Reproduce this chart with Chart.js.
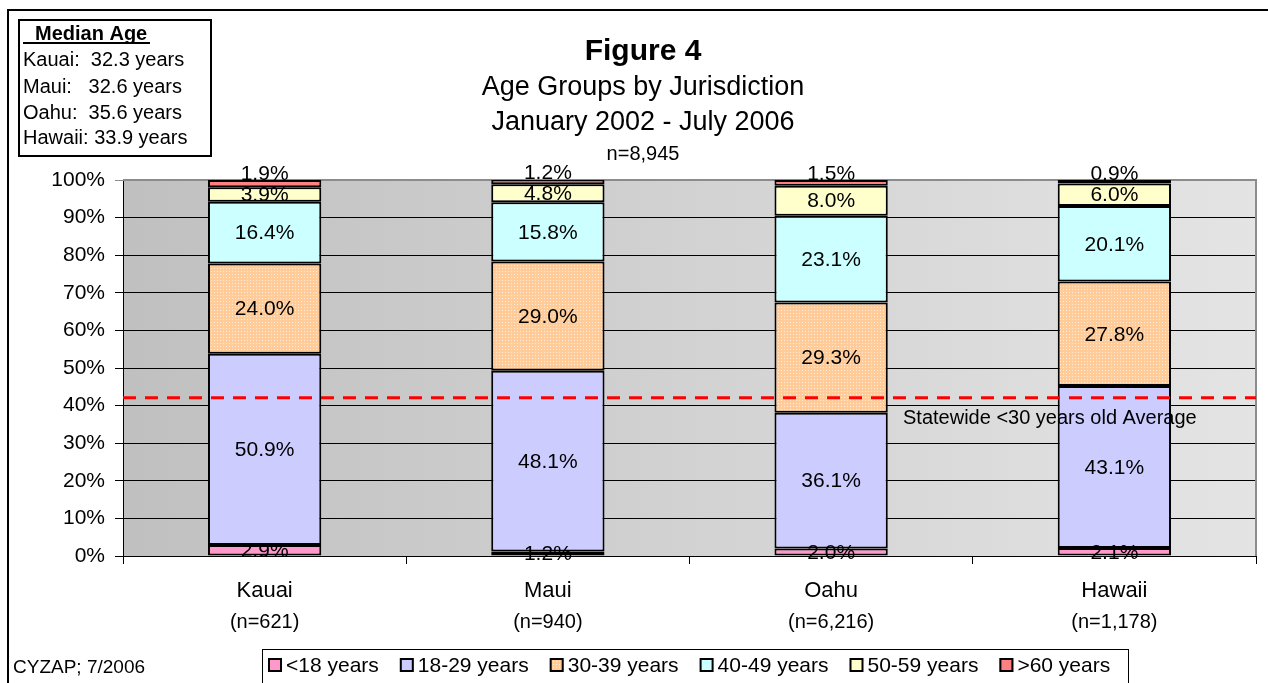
<!DOCTYPE html>
<html>
<head>
<meta charset="utf-8">
<title>Figure 4 - Age Groups by Jurisdiction</title>
<script src="https://cdn.jsdelivr.net/npm/chart.js@4.4.1/dist/chart.umd.min.js"></script>
<style>
  body { margin: 0; background: #fff; }
  #wrap { width: 1268px; height: 683px; }
</style>
</head>
<body>
<div id="wrap"><canvas id="chart" width="1268" height="683"></canvas></div>
<script>
// data
const islands = ['Kauai', 'Maui', 'Oahu', 'Hawaii'];
const sampleSizes = ['(n=621)', '(n=940)', '(n=6,216)', '(n=1,178)'];
const ageGroups = ['<18 years', '18-29 years', '30-39 years', '40-49 years', '50-59 years', '>60 years'];
const under18 = [2.9, 1.2, 2.0, 2.1];
const age18to29 = [50.9, 48.1, 36.1, 43.1];
const age30to39 = [24.0, 29.0, 29.3, 27.8];
const age40to49 = [16.4, 15.8, 23.1, 20.1];
const age50to59 = [3.9, 4.8, 8.0, 6.0];
const over60 = [1.9, 1.2, 1.5, 0.9];
const statewideUnder30 = 42.1;
const medianAge = ['Kauai:  32.3 years', 'Maui:   32.6 years', 'Oahu:  35.6 years', 'Hawaii: 33.9 years'];

const FONT = 'Arial, "Liberation Sans", sans-serif';
const canvas = document.getElementById('chart');
const ctx = canvas.getContext('2d');

// dotted fill for the 30-39 series
function dotPattern() {
  const c = document.createElement('canvas');
  c.width = 3; c.height = 3;
  const g = c.getContext('2d');
  g.fillStyle = '#FFCC99';
  g.fillRect(0, 0, 3, 3);
  g.fillStyle = '#FFEBD8';
  g.fillRect(1, 1, 1, 1);
  return ctx.createPattern(c, 'repeat');
}

const colors = ['#FF99CC', '#CCCCFF', dotPattern(), '#CCFFFF', '#FFFFCC', '#FF8080'];
const series = [under18, age18to29, age30to39, age40to49, age50to59, over60];

const datasets = series.map((vals, i) => ({
  label: ageGroups[i],
  data: vals,
  backgroundColor: colors[i],
  borderColor: '#000',
  borderWidth: 2,
  borderSkipped: false,
  barPercentage: 0.4,
  categoryPercentage: 1.0
}));

const decorations = {
  id: 'decorations',
  beforeDraw(chart) {
    const { ctx, chartArea: a } = chart;
    const grad = ctx.createLinearGradient(a.left, 0, a.right, 0);
    grad.addColorStop(0, '#c0c0c0');
    grad.addColorStop(1, '#e4e4e4');
    ctx.save();
    ctx.fillStyle = grad;
    ctx.fillRect(a.left, a.top, a.right - a.left, a.bottom - a.top);
    ctx.restore();
  },
  beforeDatasetsDraw(chart) {
    const { ctx, chartArea: a } = chart;
    ctx.save();
    ctx.strokeStyle = '#8c8c8c';
    ctx.lineWidth = 2;
    ctx.beginPath();
    ctx.moveTo(a.left, a.top);
    ctx.lineTo(a.right, a.top);
    ctx.lineTo(a.right, a.bottom);
    ctx.stroke();
    ctx.restore();
  },
  afterDatasetsDraw(chart) {
    const { ctx, chartArea: a, scales: { y } } = chart;
    ctx.save();
    // statewide average line
    const yy = y.getPixelForValue(statewideUnder30);
    ctx.strokeStyle = '#FF0000';
    ctx.lineWidth = 3;
    ctx.setLineDash([13, 9]);
    ctx.beginPath();
    ctx.moveTo(a.left, yy);
    ctx.lineTo(a.right, yy);
    ctx.stroke();
    ctx.setLineDash([]);
    ctx.fillStyle = '#000';
    ctx.font = '20px ' + FONT;
    ctx.textAlign = 'left';
    ctx.textBaseline = 'middle';
    ctx.fillText('Statewide <30 years old Average', 903, yy + 21);

    // value labels
    ctx.font = '21px ' + FONT;
    ctx.textAlign = 'center';
    const last = chart.data.datasets.length - 1;
    chart.data.datasets.forEach((ds, di) => {
      chart.getDatasetMeta(di).data.forEach((bar, i) => {
        const cy = di === last ? bar.y - 7 : (bar.y + bar.base) / 2;
        ctx.fillText(ds.data[i].toFixed(1) + '%', bar.x, cy + 1);
      });
    });
    ctx.restore();
  },
  afterDraw(chart) {
    const { ctx, scales: { x } } = chart;
    ctx.save();
    ctx.fillStyle = '#000';
    ctx.strokeStyle = '#000';

    // outer frame
    ctx.lineWidth = 2;
    ctx.strokeRect(8, 10, 1300, 700);

    // median age box
    ctx.strokeRect(19, 20, 192, 136);
    ctx.textAlign = 'left';
    ctx.textBaseline = 'alphabetic';
    ctx.font = 'bold 20px ' + FONT;
    ctx.fillText('Median Age', 35, 40);
    ctx.fillRect(23, 42, 127, 2);
    ctx.font = '20px ' + FONT;
    const rows = [66, 93, 119, 144];
    medianAge.forEach((t, i) => ctx.fillText(t, 23, rows[i]));

    // titles
    ctx.textAlign = 'center';
    ctx.font = 'bold 30px ' + FONT;
    ctx.fillText('Figure 4', 643, 60);
    ctx.font = '27px ' + FONT;
    ctx.fillText('Age Groups by Jurisdiction', 643, 95);
    ctx.fillText('January 2002 - July 2006', 643, 130);
    ctx.font = '20px ' + FONT;
    ctx.fillText('n=8,945', 643, 160);

    // category labels
    islands.forEach((name, i) => {
      const px = x.getPixelForValue(i);
      ctx.font = '22px ' + FONT;
      ctx.fillText(name, px, 597);
      ctx.font = '20px ' + FONT;
      ctx.fillText(sampleSizes[i], px, 628);
    });

    // footer
    ctx.textAlign = 'left';
    ctx.font = '19px ' + FONT;
    ctx.fillText('CYZAP; 7/2006', 13, 673);

    // legend
    ctx.lineWidth = 1;
    ctx.strokeRect(262.5, 649.5, 866, 60);
    ctx.font = '21px ' + FONT;
    ctx.textBaseline = 'middle';
    let lx = 268;
    ageGroups.forEach((g, i) => {
      ctx.fillStyle = colors[i];
      ctx.fillRect(lx, 658, 14, 14);
      ctx.lineWidth = 2;
      ctx.strokeRect(lx + 1, 659, 12, 12);
      ctx.fillStyle = '#000';
      ctx.fillText(g, lx + 18, 666);
      lx += 18 + ctx.measureText(g).width + 21;
    });
    ctx.restore();
  }
};

new Chart(ctx, {
  type: 'bar',
  data: { labels: islands, datasets: datasets },
  options: {
    responsive: false,
    animation: false,
    devicePixelRatio: 1,
    layout: { padding: { top: 180, right: 12, bottom: 0, left: 0 } },
    plugins: {
      legend: { display: false },
      title: { display: false },
      tooltip: { enabled: false }
    },
    scales: {
      x: {
        stacked: true,
        ticks: { display: false },
        grid: { drawOnChartArea: false, drawTicks: true, tickLength: 8, color: '#000' },
        border: { color: '#000', width: 1 },
        afterFit(s) { s.height = 127; }
      },
      y: {
        stacked: true,
        min: 0,
        max: 100,
        ticks: {
          stepSize: 10,
          color: '#000',
          padding: 10,
          font: { family: FONT, size: 21 },
          callback: v => v + '%'
        },
        grid: {
          tickLength: 8,
          lineWidth: 1,
          color: c => (c.tick && c.tick.value === 100) ? '#8c8c8c' : '#000'
        },
        border: { color: '#000', width: 1 },
        afterFit(s) { s.width = 123; }
      }
    }
  },
  plugins: [decorations]
});
</script>
</body>
</html>
